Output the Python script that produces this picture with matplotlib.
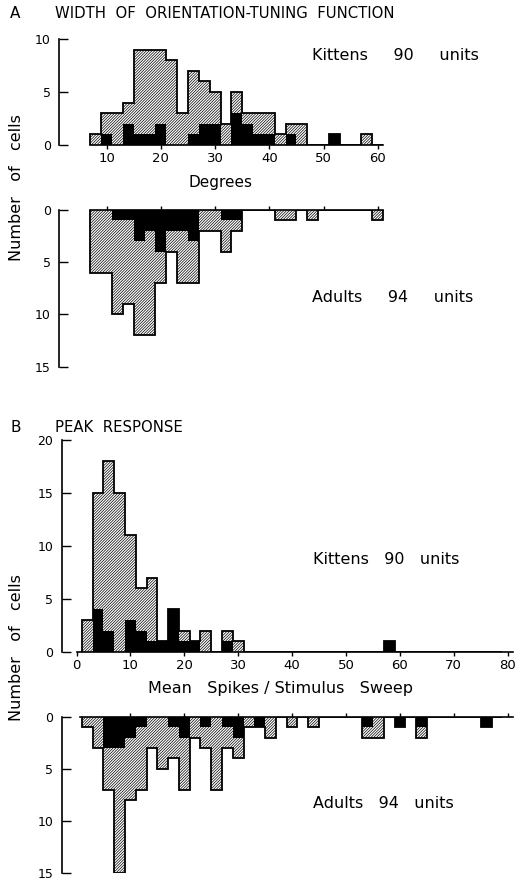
import numpy as np
import matplotlib
matplotlib.use('Agg')
import matplotlib.pyplot as plt

plt.rcParams['font.family'] = 'DejaVu Sans'
plt.rcParams['hatch.linewidth'] = 0.5

# --- data: bin left edges (2-unit bins) and counts ---
a_left = list(range(7, 61, 2))  # orientation tuning width, degrees
a_kit_total = [1, 3, 3, 4, 9, 9, 9, 8, 3, 7, 6, 5, 2, 5, 3, 3, 3, 1, 2, 2, 0, 0, 1, 0, 0, 1, 0]
a_kit_black = [0, 1, 0, 2, 1, 1, 2, 0, 0, 1, 2, 2, 0, 3, 2, 1, 1, 0, 1, 0, 0, 0, 1, 0, 0, 0, 0]
a_adu_total = [6, 6, 10, 9, 12, 12, 7, 4, 7, 7, 2, 2, 4, 2, 0, 0, 0, 1, 1, 0, 1, 0, 0, 0, 0, 0, 1]
a_adu_black = [0, 0, 1, 1, 3, 2, 4, 2, 2, 3, 0, 0, 1, 1, 0, 0, 0, 0, 0, 0, 0, 0, 0, 0, 0, 0, 0]

b_left = list(range(1, 79, 2))  # mean spikes / stimulus sweep
b_kit_total = [3, 15, 18, 15, 11, 6, 7, 1, 4, 2, 1, 2, 0, 2, 1, 0, 0, 0, 0, 0,
               0, 0, 0, 0, 0, 0, 0, 0, 1, 0, 0, 0, 0, 0, 0, 0, 0, 0, 0]
b_kit_black = [0, 4, 2, 0, 3, 2, 1, 1, 4, 1, 1, 0, 0, 1, 0, 0, 0, 0, 0, 0,
               0, 0, 0, 0, 0, 0, 0, 0, 1, 0, 0, 0, 0, 0, 0, 0, 0, 0, 0]
b_adu_total = [1, 3, 7, 15, 8, 7, 3, 5, 4, 7, 2, 3, 7, 3, 4, 1, 1, 2, 0, 1,
               0, 1, 0, 0, 0, 0, 2, 2, 0, 1, 0, 2, 0, 0, 0, 0, 0, 1, 0]
b_adu_black = [0, 0, 3, 3, 2, 1, 0, 0, 1, 2, 0, 1, 0, 1, 2, 0, 1, 0, 0, 0,
               0, 0, 0, 0, 0, 0, 1, 0, 0, 1, 0, 1, 0, 0, 0, 0, 0, 1, 0]

a_xticks = [10, 20, 30, 40, 50, 60]
b_xticks = [0, 10, 20, 30, 40, 50, 60, 70, 80]

W, H = 520, 882
fig = plt.figure(figsize=(W / 100, H / 100), dpi=100)


def px_axes(left, top, right, bottom):
    return fig.add_axes([left / W, 1 - bottom / H, (right - left) / W, (bottom - top) / H])


def draw_hist(ax, left, total, black):
    edges = np.append(left, left[-1] + 2)
    ax.bar(left, total, width=2, align='edge', facecolor='white',
           edgecolor='black', linewidth=0, hatch='////////////', zorder=1)
    ax.bar(left, black, width=2, align='edge', color='black', linewidth=0, zorder=2)
    ax.stairs(total, edges, color='black', linewidth=1.3, zorder=3)


def style(ax, ylim, yticks, xlim, xticks, span, top_axis, xlabels):
    for s in ax.spines.values():
        s.set_visible(False)
    ax.set_xlim(*xlim)
    ax.set_ylim(*ylim)
    ax.spines['left'].set_visible(True)
    ax.spines['left'].set_bounds(min(yticks), max(yticks))
    ax.spines['left'].set_linewidth(1.2)
    ax.set_yticks(yticks)
    ax.tick_params(axis='y', direction='in', length=6.5, width=1.0, labelsize=9, pad=6)
    xs = 'top' if top_axis else 'bottom'
    ax.spines[xs].set_visible(True)
    ax.spines[xs].set_bounds(*span)
    ax.spines[xs].set_linewidth(1.2)
    ax.set_xticks(xticks)
    if top_axis:
        ax.xaxis.tick_top()
        ax.tick_params(axis='x', direction='out', length=3, width=1.0, labeltop=False)
    else:
        ax.tick_params(axis='x', direction='out', length=3, width=1.0, labelsize=9.5, pad=2)
    if not xlabels:
        ax.set_xticklabels([])
    ax.patch.set_alpha(0)


# panel A: orientation tuning width (0 deg at px 52.5, 5.42 px/deg)
a_xlim = ((59 - 52.5) / 5.42, (400 - 52.5) / 5.42)
ax1 = px_axes(59, 39, 400, 145)
draw_hist(ax1, a_left, a_kit_total, a_kit_black)
style(ax1, (0, 10), [0, 5, 10], a_xlim, a_xticks, (7, 61), False, True)

ax2 = px_axes(59, 210, 400, 366.7)
draw_hist(ax2, a_left, a_adu_total, a_adu_black)
style(ax2, (15, 0), [0, 5, 10, 15], a_xlim, a_xticks, (7, 61), True, False)

# panel B: peak response (0 at px 76.5, 5.39 px/unit)
b_xlim = ((61.5 - 76.5) / 5.39, (515 - 76.5) / 5.39)
ax3 = px_axes(61.5, 440, 515, 651.7)
draw_hist(ax3, b_left, b_kit_total, b_kit_black)
style(ax3, (0, 20), [0, 5, 10, 15, 20], b_xlim, b_xticks, (0, 81), False, True)

ax4 = px_axes(61.5, 716.7, 515, 873.3)
draw_hist(ax4, b_left, b_adu_total, b_adu_black)
style(ax4, (15, 0), [0, 5, 10, 15], b_xlim, b_xticks[1:], (0.7, 81), True, False)


def ftext(x, y, s, **kw):
    fig.text(x / W, 1 - y / H, s, va='center', **kw)


ftext(10, 14, 'A', fontsize=11)
ftext(55, 14, 'WIDTH  OF  ORIENTATION-TUNING  FUNCTION', fontsize=10.7)
ftext(312, 56, 'Kittens     90     units', fontsize=11.5)
ftext(220, 183, 'Degrees', fontsize=11, ha='center')
ftext(312, 297, 'Adults     94     units', fontsize=11.5)
ftext(17, 188, 'Number   of   cells', fontsize=11.5, ha='center', rotation=90)

ftext(10, 427, 'B', fontsize=11)
ftext(55, 427, 'PEAK  RESPONSE', fontsize=10.7)
ftext(313, 560, 'Kittens   90   units', fontsize=11.5)
ftext(281, 688, 'Mean   Spikes / Stimulus   Sweep', fontsize=11.5, ha='center')
ftext(313, 803, 'Adults   94   units', fontsize=11.5)
ftext(17, 648, 'Number   of   cells', fontsize=11.5, ha='center', rotation=90)

fig.savefig('out.png', dpi=100)
